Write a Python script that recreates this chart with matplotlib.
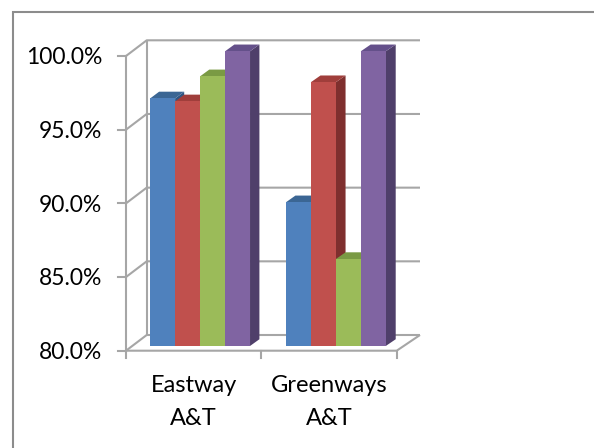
import matplotlib.pyplot as plt
from matplotlib.patches import Polygon, Rectangle

plt.rcParams['font.family'] = ['Lato', 'DejaVu Sans']

# 数据
categories = ['Eastway\nA&T', 'Greenways\nA&T']
series_blue = [96.8, 89.75]
series_red = [96.6, 97.9]
series_green = [98.3, 85.9]
series_purple = [100.0, 100.0]
y_ticks = [80, 85, 90, 95, 100]
y_labels = ['80.0%', '85.0%', '90.0%', '95.0%', '100.0%']

# 正面、顶面、侧面颜色
colors = [
    ('#4F81BD', '#3B6694', '#2F5683'),
    ('#C0504D', '#A03E3B', '#7F2F2E'),
    ('#9BBB59', '#7A9A44', '#6A8736'),
    ('#8064A2', '#64508A', '#4F3F6A'),
]
grid_c = '#A6A6A6'

W, H = 594, 448
fig = plt.figure(figsize=(W / 100, H / 100), dpi=100)
# 前平面: x 0..2 -> 126..396.7 px, y 80..100 -> 350.7..56 px
ax = fig.add_axes([126 / W, (H - 350.7) / H, 270.7 / W, (350.7 - 56) / H])
ax.set_xlim(0, 2)
ax.set_ylim(80, 100)
ax.axis('off')

px_x = 270.7 / 2          # 每个分类的像素宽度
px_y = (350.7 - 56) / 20  # 每 1% 的像素高度


def proj(x, y, z):
    # 斜投影: z=0 为前平面, z=1 为后墙
    dx = 20.7 + 1.3 * x
    return x + z * dx / px_x, y + z * 15.7 / px_y


def line3d(pts, **kw):
    xs, ys = zip(*[proj(*p) for p in pts])
    ax.plot(xs, ys, color=grid_c, lw=1.5, clip_on=False,
            solid_capstyle='butt', **kw)


# 背景墙网格线与左侧墙
for t in y_ticks:
    line3d([(0, t, 0), (0, t, 1), (2, t, 1)], zorder=1)
line3d([(0, 80, 1), (0, 100, 1)], zorder=1)
# 底板
line3d([(0, 80, 0), (2, 80, 0), (2, 80, 1)], zorder=1)

# 纵轴与刻度
ax.plot([0, 0], [80, 100], color=grid_c, lw=1.5, clip_on=False, zorder=1)
for t, lab in zip(y_ticks, y_labels):
    ax.plot([-8 / px_x, 0], [t, t], color=grid_c, lw=1.5, clip_on=False)
    ax.text(-24 / px_x, t - 0.12, lab, ha='right', va='center',
            fontsize=16.5, color='black')

# 横轴刻度与分类标签
for i in range(3):
    ax.plot([i, i], [80, 80 - 7.5 / px_y], color=grid_c, lw=1.5, clip_on=False)
for i, cat in enumerate(categories):
    ax.text(i + 0.5, 80 - 24 / px_y, cat, ha='center', va='top',
            fontsize=17, linespacing=1.7, color='black')

# 三维柱子
values = [series_blue, series_red, series_green, series_purple]
bw = 24.9 / px_x
zf, zb = 0.3, 0.73
z = 2
for ci in range(len(categories)):
    x0 = ci + 0.5 - 2 * bw
    for si, vals in enumerate(values):
        v = vals[ci]
        xl, xr = x0 + si * bw, x0 + (si + 1) * bw
        front_c, top_c, side_c = colors[si]
        front = [proj(xl, 80, zf), proj(xr, 80, zf), proj(xr, v, zf), proj(xl, v, zf)]
        side = [proj(xr, 80, zf), proj(xr, 80, zb), proj(xr, v, zb), proj(xr, v, zf)]
        top = [proj(xl, v, zf), proj(xr, v, zf), proj(xr, v, zb), proj(xl, v, zb)]
        for pts, c in ((side, side_c), (top, top_c), (front, front_c)):
            ax.add_patch(Polygon(pts, closed=True, facecolor=c, edgecolor='none',
                                 clip_on=False, zorder=z))
            z += 1

# 外框
fig.add_artist(Rectangle((12.7 / W, -0.05), 1.0, (H - 12.5) / H + 0.05,
                         transform=fig.transFigure, fill=False,
                         edgecolor='#8C8C8C', lw=1.5))

fig.savefig('out.png', dpi=100)
